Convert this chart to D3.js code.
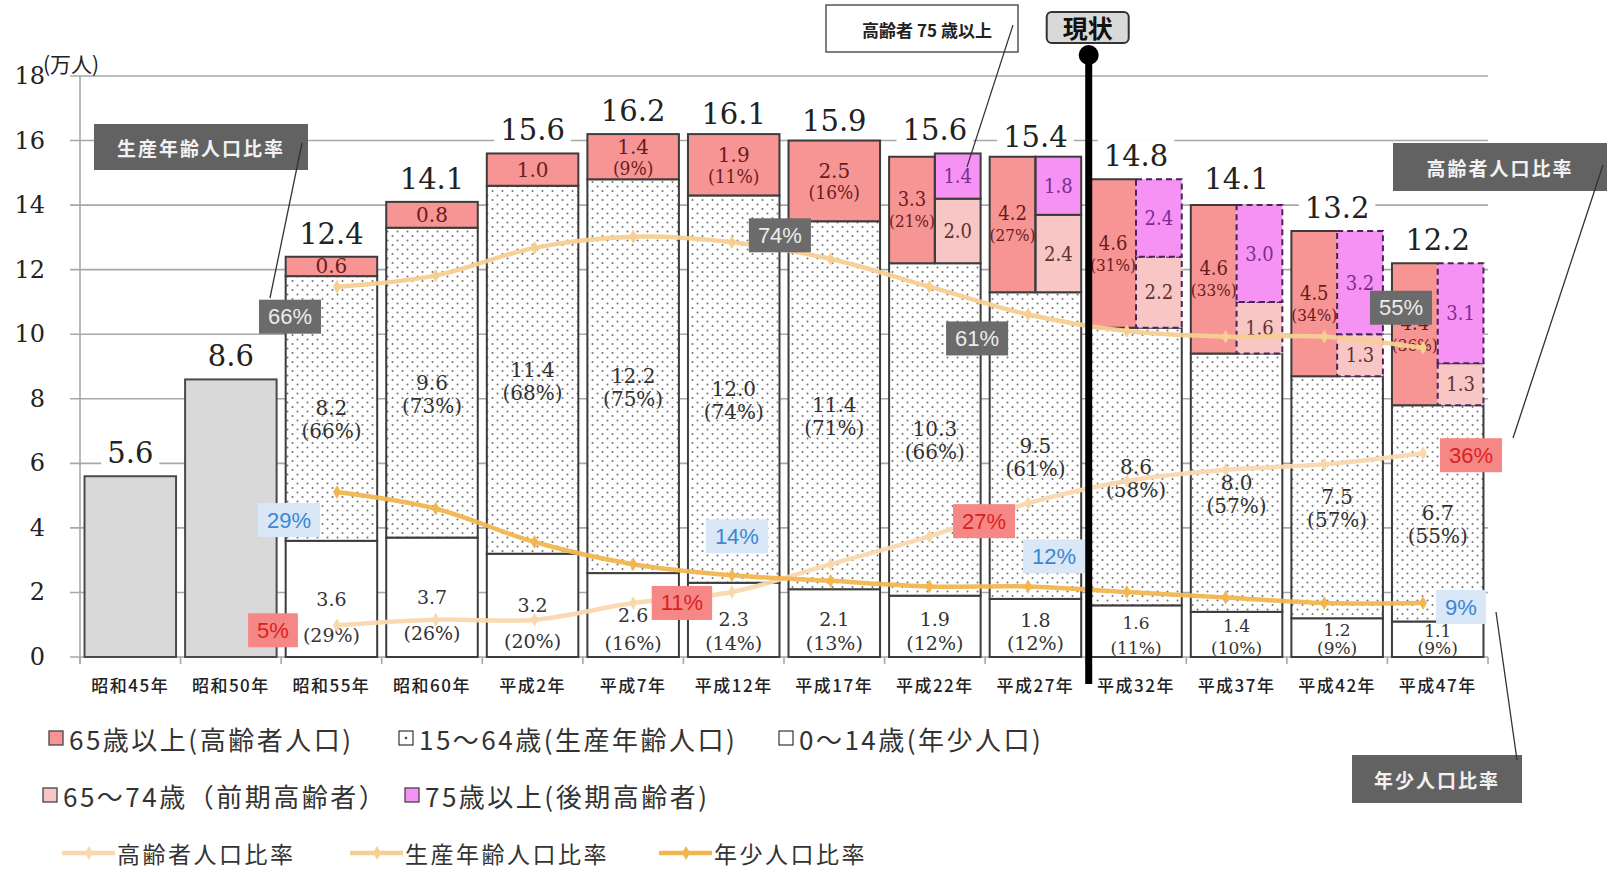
<!DOCTYPE html>
<html><head><meta charset="utf-8">
<script src="https://cdn.jsdelivr.net/npm/d3@7"></script>
<style>
html,body{margin:0;padding:0;background:#fff;}
svg{display:block;}
</style></head>
<body><svg id="chart" width="1614" height="872"></svg>
<script>
// ---------------- DATA ----------------
const categories = ["昭和45年","昭和50年","昭和55年","昭和60年","平成2年","平成7年","平成12年","平成17年","平成22年","平成27年","平成32年","平成37年","平成42年","平成47年"];
const totals    = [5.6, 8.6, 12.4, 14.1, 15.6, 16.2, 16.1, 15.9, 15.6, 15.4, 14.8, 14.1, 13.2, 12.2];
const age0_14   = [null, null, 3.6, 3.7, 3.2, 2.6, 2.3, 2.1, 1.9, 1.8, 1.6, 1.4, 1.2, 1.1];
const age0_14Pct= [null, null, 29, 26, 20, 16, 14, 13, 12, 12, 11, 10, 9, 9];
const age15_64  = [null, null, 8.2, 9.6, 11.4, 12.2, 12.0, 11.4, 10.3, 9.5, 8.6, 8.0, 7.5, 6.7];
const age15_64Pct=[null, null, 66, 73, 68, 75, 74, 71, 66, 61, 58, 57, 57, 55];
const age65     = [null, null, 0.6, 0.8, 1.0, 1.4, 1.9, 2.5, 3.3, 4.2, 4.6, 4.6, 4.5, 4.4];
const age65Pct  = [null, null, null, null, null, 9, 11, 16, 21, 27, 31, 33, 34, 36];
const age65_74  = [null, null, null, null, null, null, null, null, 2.0, 2.4, 2.2, 1.6, 1.3, 1.3];
const age75     = [null, null, null, null, null, null, null, null, 1.4, 1.8, 2.4, 3.0, 3.2, 3.1];
const lineCategories = categories.slice(2);
const ratioElderly = [5, 6, 6, 9, 11, 16, 21, 27, 31, 33, 34, 36];
const ratioWorking = [66, 68, 73, 75, 74, 71, 66, 61, 58, 57, 57, 55];
const ratioChild   = [29, 26, 20, 16, 14, 13, 12, 12, 11, 10, 9, 9];
const yTicks = [0, 2, 4, 6, 8, 10, 12, 14, 16, 18];
const currentCategory = "平成27年";
const unitLabel = "(万人)";
const legendBars = ["65歳以上(高齢者人口)", "15～64歳(生産年齢人口)", "0～14歳(年少人口)", "65～74歳（前期高齢者）", "75歳以上(後期高齢者)"];
const legendLines = ["高齢者人口比率", "生産年齢人口比率", "年少人口比率"];
// ratio labels: series, point index, box offset from point
const ratioLabels = [
  {s:"working", i:0, dx:-47, dy:30}, {s:"working", i:4, dx:48, dy:-7},
  {s:"working", i:7, dx:-51, dy:24}, {s:"working", i:11, dx:-22, dy:-40},
  {s:"elderly", i:0, dx:-64, dy:5},  {s:"elderly", i:4, dx:-50, dy:11},
  {s:"elderly", i:7, dx:-44, dy:18}, {s:"elderly", i:11, dx:48, dy:2},
  {s:"child", i:0, dx:-48, dy:28},   {s:"child", i:4, dx:5, dy:-39},
  {s:"child", i:7, dx:26, dy:-30},   {s:"child", i:11, dx:38, dy:4}
];

// ---------------- STYLE ----------------
const C = {
  old: "#f79595", old1: "#f9c6c6", old2: "#f792f5", gray: "#d9d9d9",
  edge: "#3c3c3c", dash: "#4a2458", grid: "#a8a8a8",
  lElderly: "#fad8ae", lWorking: "#f6cf92", lChild: "#f2b651"
};
const serif = "'DejaVu Serif', 'Liberation Serif', serif";
const serifC = "'DejaVu Serif Condensed', 'DejaVu Serif', serif";
const jp = "'Noto Sans CJK JP', 'Noto Sans', sans-serif";
const sans = "'Liberation Sans', Arial, sans-serif";

const svg = d3.select("#chart");
const defs = svg.append("defs");
const pat = defs.append("pattern").attr("id","dots").attr("patternUnits","userSpaceOnUse")
  .attr("width",10).attr("height",9);
pat.append("rect").attr("width",10).attr("height",9).attr("fill","#fff");
pat.append("circle").attr("cx",2.5).attr("cy",2).attr("r",1).attr("fill","#707070");
pat.append("circle").attr("cx",7.5).attr("cy",6.5).attr("r",1).attr("fill","#707070");

const x = d3.scaleBand().domain(categories).range([80, 1488]).paddingInner(0.09).paddingOuter(0.045);
const y = d3.scaleLinear().domain([0, 18]).range([657, 76]);
const xR = d3.scalePoint().domain(lineCategories).range([337, 1423]);
const yR = d3.scaleLinear().domain([0, 100]).range([653, 98]);
const bw = x.bandwidth();
const step = x.step();

// ---------------- GRID & AXES ----------------
const grid = svg.append("g");
yTicks.forEach(t => {
  grid.append("line").attr("x1", 70).attr("x2", 1488).attr("y1", y(t)).attr("y2", y(t))
    .attr("stroke", C.grid).attr("stroke-width", 1.6);
  svg.append("text").attr("x", 45).attr("y", y(t)).attr("text-anchor","end")
    .attr("dominant-baseline","central").attr("font-family", serif).attr("font-size", 24)
    .attr("fill","#222").text(t);
});
grid.append("line").attr("x1", 80).attr("x2", 80).attr("y1", y(18)).attr("y2", y(0) + 7)
  .attr("stroke", C.grid).attr("stroke-width", 1.6);
d3.range(categories.length + 1).forEach(k => {
  const xx = 80 + k * step;
  grid.append("line").attr("x1", xx).attr("x2", xx).attr("y1", y(0)).attr("y2", y(0) + 7)
    .attr("stroke", C.grid).attr("stroke-width", 1.6);
});
svg.append("text").attr("x", 43).attr("y", 63).attr("dominant-baseline","central")
  .attr("font-family", jp).attr("font-size", 21).attr("fill","#222").text(unitLabel);

categories.forEach(c => {
  svg.append("text").attr("x", x(c) + bw / 2).attr("y", 684).attr("text-anchor","middle")
    .attr("dominant-baseline","central").attr("font-family", jp).attr("font-size", 17)
    .attr("letter-spacing", 1.5).attr("font-weight", 500).attr("fill","#222").text(c);
});

// ---------------- TOTAL LABELS (white bg) ----------------
const totG = svg.append("g");
categories.forEach((c, i) => {
  const t = totG.append("text").attr("x", x(c) + bw / 2).attr("y", y(totals[i]) - 13)
    .attr("text-anchor","middle").attr("font-family", serif).attr("font-size", 29)
    .attr("fill","#222").text(totals[i].toFixed(1));
  const bb = t.node().getBBox();
  totG.insert("rect", "text").attr("x", bb.x - 6).attr("y", bb.y).attr("width", bb.width + 12)
    .attr("height", bb.height).attr("fill","#fff");
});

// ---------------- BARS ----------------
const bars = svg.append("g");
const labels = svg.append("g");
const currentIdx = categories.indexOf(currentCategory);
function rect(g, x0, y0, w, h, fill, dashed) {
  return g.append("rect").attr("x", x0).attr("y", y0).attr("width", w).attr("height", h)
    .attr("fill", fill).attr("stroke", dashed ? C.dash : C.edge).attr("stroke-width", 2)
    .attr("stroke-dasharray", dashed ? "6,4" : null);
}
function label(xc, yc, txt, color, size, fam) {
  labels.append("text").attr("x", xc).attr("y", yc).attr("text-anchor","middle")
    .attr("dominant-baseline","central").attr("font-family", fam || serif)
    .attr("font-size", size || 20).attr("fill", color).text(txt);
}
categories.forEach((c, i) => {
  const x0 = x(c);
  const g = bars.append("g");
  const xc = x0 + bw / 2;
  if (age0_14[i] == null) {
    rect(g, x0, y(totals[i]), bw, y(0) - y(totals[i]), C.gray, false).attr("stroke","#4a4a4a");
    return;
  }
  const b1 = age0_14[i], b2 = b1 + age15_64[i], b3 = b2 + age65[i];
  const future = i > currentIdx;
  rect(g, x0, y(b1), bw, y(0) - y(b1), "#fff", false);
  rect(g, x0, y(b2), bw, y(b1) - y(b2), "url(#dots)", false);
  // 0-14 label
  const m1 = (y(0) + y(b1)) / 2;
  const v1 = Math.max(Math.min(m1, 619), m1 - 8);
  const small = v1 > 621;
  label(xc, v1, age0_14[i].toFixed(1), "#333", small ? 17 : 19);
  label(xc, small ? 648 : Math.min(v1 + 36, 643), "(" + age0_14Pct[i] + "%)", "#333", small ? 17 : 19);
  // 15-64 label
  const m2 = (y(b1) + y(b2)) / 2;
  label(xc, m2, age15_64[i].toFixed(1), "#333");
  label(xc, m2 + 23, "(" + age15_64Pct[i] + "%)", "#333");
  if (age65_74[i] != null) {
    const hw = bw / 2;
    g.append("rect").attr("x", x0).attr("y", y(b3)).attr("width", hw).attr("height", y(b2) - y(b3))
      .attr("fill", C.old);
    const c1 = b2 + age65_74[i], c2 = c1 + age75[i];
    rect(g, x0 + hw, y(c1), hw, y(b2) - y(c1), C.old1, future);
    rect(g, x0 + hw, y(c2), hw, y(c1) - y(c2), C.old2, future);
    const p = d3.path();
    if (future) {
      p.moveTo(x0 + hw, y(b3)); p.lineTo(x0, y(b3)); p.lineTo(x0, y(b2)); p.lineTo(x0 + hw, y(b2));
    } else {
      p.rect(x0, y(b3), hw, y(b2) - y(b3));
    }
    g.append("path").attr("d", p.toString()).attr("fill","none").attr("stroke", C.edge).attr("stroke-width", 2);
    const m3 = (y(b2) + y(b3)) / 2;
    label(x0 + hw / 2, m3 - 11, age65[i].toFixed(1), "#6a1c1c", 20, serifC);
    label(x0 + hw / 2, m3 + 11, "(" + age65Pct[i] + "%)", "#6a1c1c", 17, serifC);
    label(x0 + hw * 1.5, (y(b2) + y(c1)) / 2, age65_74[i].toFixed(1), "#5a3434", 20, serifC);
    label(x0 + hw * 1.5, (y(c1) + y(c2)) / 2, age75[i].toFixed(1), "#7b2d91", 20, serifC);
  } else {
    rect(g, x0, y(b3), bw, y(b2) - y(b3), C.old, false);
    const m3 = (y(b2) + y(b3)) / 2;
    if (age65Pct[i] == null) {
      label(xc, m3, age65[i].toFixed(1), "#6a1c1c");
    } else {
      label(xc, m3 - 10, age65[i].toFixed(1), "#6a1c1c");
      label(xc, m3 + 11, "(" + age65Pct[i] + "%)", "#6a1c1c", 19, serifC);
    }
  }
});

// ---------------- RATIO LINES ----------------
const series = {
  elderly: {v: ratioElderly, color: C.lElderly},
  working: {v: ratioWorking, color: C.lWorking},
  child:   {v: ratioChild,   color: C.lChild}
};
const lineGen = d3.line().x((d, k) => xR(lineCategories[k])).y(d => yR(d)).curve(d3.curveCatmullRom.alpha(0.5));
const linesG = svg.append("g");
["elderly","working","child"].forEach(k => {
  const s = series[k];
  linesG.append("path").attr("d", lineGen(s.v)).attr("fill","none").attr("stroke", s.color)
    .attr("stroke-width", 4.5).attr("stroke-linecap","round").attr("opacity", 0.95);
  s.v.forEach((d, j) => {
    linesG.append("path").attr("d", d3.symbol().type(d3.symbolDiamond).size(55)())
      .attr("transform", `translate(${xR(lineCategories[j])},${yR(d)})`).attr("fill", s.color);
  });
});

// ratio labels
const boxStyle = {
  working: {fill: "#6b6b6b", text: "#ececec"},
  elderly: {fill: "#f68787", text: "#de1f1f"},
  child:   {fill: "#d9e7f6", text: "#3a88d2"}
};
ratioLabels.forEach(r => {
  const v = series[r.s].v[r.i];
  const px = xR(lineCategories[r.i]) + r.dx, py = yR(v) + r.dy;
  const g = svg.append("g");
  const t = g.append("text").attr("x", px).attr("y", py).attr("text-anchor","middle")
    .attr("dominant-baseline","central").attr("font-family", sans).attr("font-size", 22)
    .attr("fill", boxStyle[r.s].text).text(v + "%");
  const bb = t.node().getBBox();
  g.insert("rect","text").attr("x", bb.x - 9).attr("y", py - 17).attr("width", bb.width + 18)
    .attr("height", 34).attr("fill", boxStyle[r.s].fill);
});

// ---------------- CALLOUTS ----------------
function callout(x0, y0, w, h, txt, lx1, ly1, lx2, ly2) {
  svg.append("rect").attr("x", x0).attr("y", y0).attr("width", w).attr("height", h).attr("fill", "#626262");
  svg.append("text").attr("x", x0 + w / 2).attr("y", y0 + h / 2).attr("text-anchor","middle")
    .attr("dominant-baseline","central").attr("font-family", jp).attr("font-weight", 700)
    .attr("font-size", 19).attr("letter-spacing", 2).attr("fill", "#f2f2f2").text(txt);
  svg.append("line").attr("x1", lx1).attr("y1", ly1).attr("x2", lx2).attr("y2", ly2)
    .attr("stroke", "#333").attr("stroke-width", 1.3);
}
callout(94, 124, 214, 46, legendLines[1], 302, 143, 270, 298);
callout(1393, 143, 214, 48, legendLines[0], 1603, 165, 1513, 438);
callout(1352, 755, 170, 48, legendLines[2], 1517, 760, 1496, 612);

svg.append("rect").attr("x", 826).attr("y", 5).attr("width", 192).attr("height", 47)
  .attr("fill", "#fff").attr("stroke", "#555").attr("stroke-width", 1.5);
svg.append("text").attr("x", 927).attr("y", 29).attr("text-anchor","middle")
  .attr("dominant-baseline","central").attr("font-family", jp).attr("font-weight", 700)
  .attr("font-size", 17).attr("fill", "#222").text("高齢者 75 歳以上");
svg.append("line").attr("x1", 1013).attr("y1", 25).attr("x2", 967).attr("y2", 167)
  .attr("stroke", "#333").attr("stroke-width", 1.2);

// 現状 marker
const xNow = (x(currentCategory) + bw + x(categories[currentIdx + 1])) / 2 + 3;
svg.append("line").attr("x1", xNow).attr("x2", xNow).attr("y1", 55).attr("y2", 684)
  .attr("stroke", "#000").attr("stroke-width", 7);
svg.append("circle").attr("cx", xNow).attr("cy", 55).attr("r", 10).attr("fill", "#000");
svg.append("rect").attr("x", xNow - 42).attr("y", 12).attr("width", 82).attr("height", 31)
  .attr("rx", 5).attr("fill", "#d9d9d9").attr("stroke", "#333").attr("stroke-width", 2);
svg.append("text").attr("x", xNow - 1).attr("y", 27).attr("text-anchor","middle")
  .attr("dominant-baseline","central").attr("font-family", jp).attr("font-weight", 700)
  .attr("font-size", 25).attr("fill", "#111").text("現状");

// ---------------- LEGEND ----------------
const legFills = [C.old, "#fff", "#fff", C.old1, C.old2];
const legPos = [[49, 738], [399, 738], [779, 738], [43, 795], [405, 795]];
legendBars.forEach((t, k) => {
  const [lx, ly] = legPos[k];
  svg.append("rect").attr("x", lx).attr("y", ly - 7).attr("width", 14).attr("height", 14)
    .attr("fill", legFills[k]).attr("stroke", "#444").attr("stroke-width", 1.3);
  if (k === 1) svg.append("circle").attr("cx", lx + 7).attr("cy", ly).attr("r", 1.3).attr("fill", "#444");
  svg.append("text").attr("x", lx + 20).attr("y", ly).attr("dominant-baseline","central")
    .attr("font-family", jp).attr("font-size", 26).attr("letter-spacing", 2.5)
    .attr("fill", "#333").text(t);
});
const lineLegX = [62, 350, 659];
const lineLegColors = [C.lElderly, C.lWorking, C.lChild];
legendLines.forEach((t, k) => {
  const lx = lineLegX[k], ly = 853;
  svg.append("line").attr("x1", lx).attr("x2", lx + 53).attr("y1", ly).attr("y2", ly)
    .attr("stroke", lineLegColors[k]).attr("stroke-width", 4.5);
  svg.append("path").attr("d", d3.symbol().type(d3.symbolDiamond).size(55)())
    .attr("transform", `translate(${lx + 27},${ly})`).attr("fill", lineLegColors[k]);
  svg.append("text").attr("x", lx + 55).attr("y", ly).attr("dominant-baseline","central")
    .attr("font-family", jp).attr("font-size", 23).attr("letter-spacing", 2.5)
    .attr("fill", "#333").text(t);
});
</script></body></html>
